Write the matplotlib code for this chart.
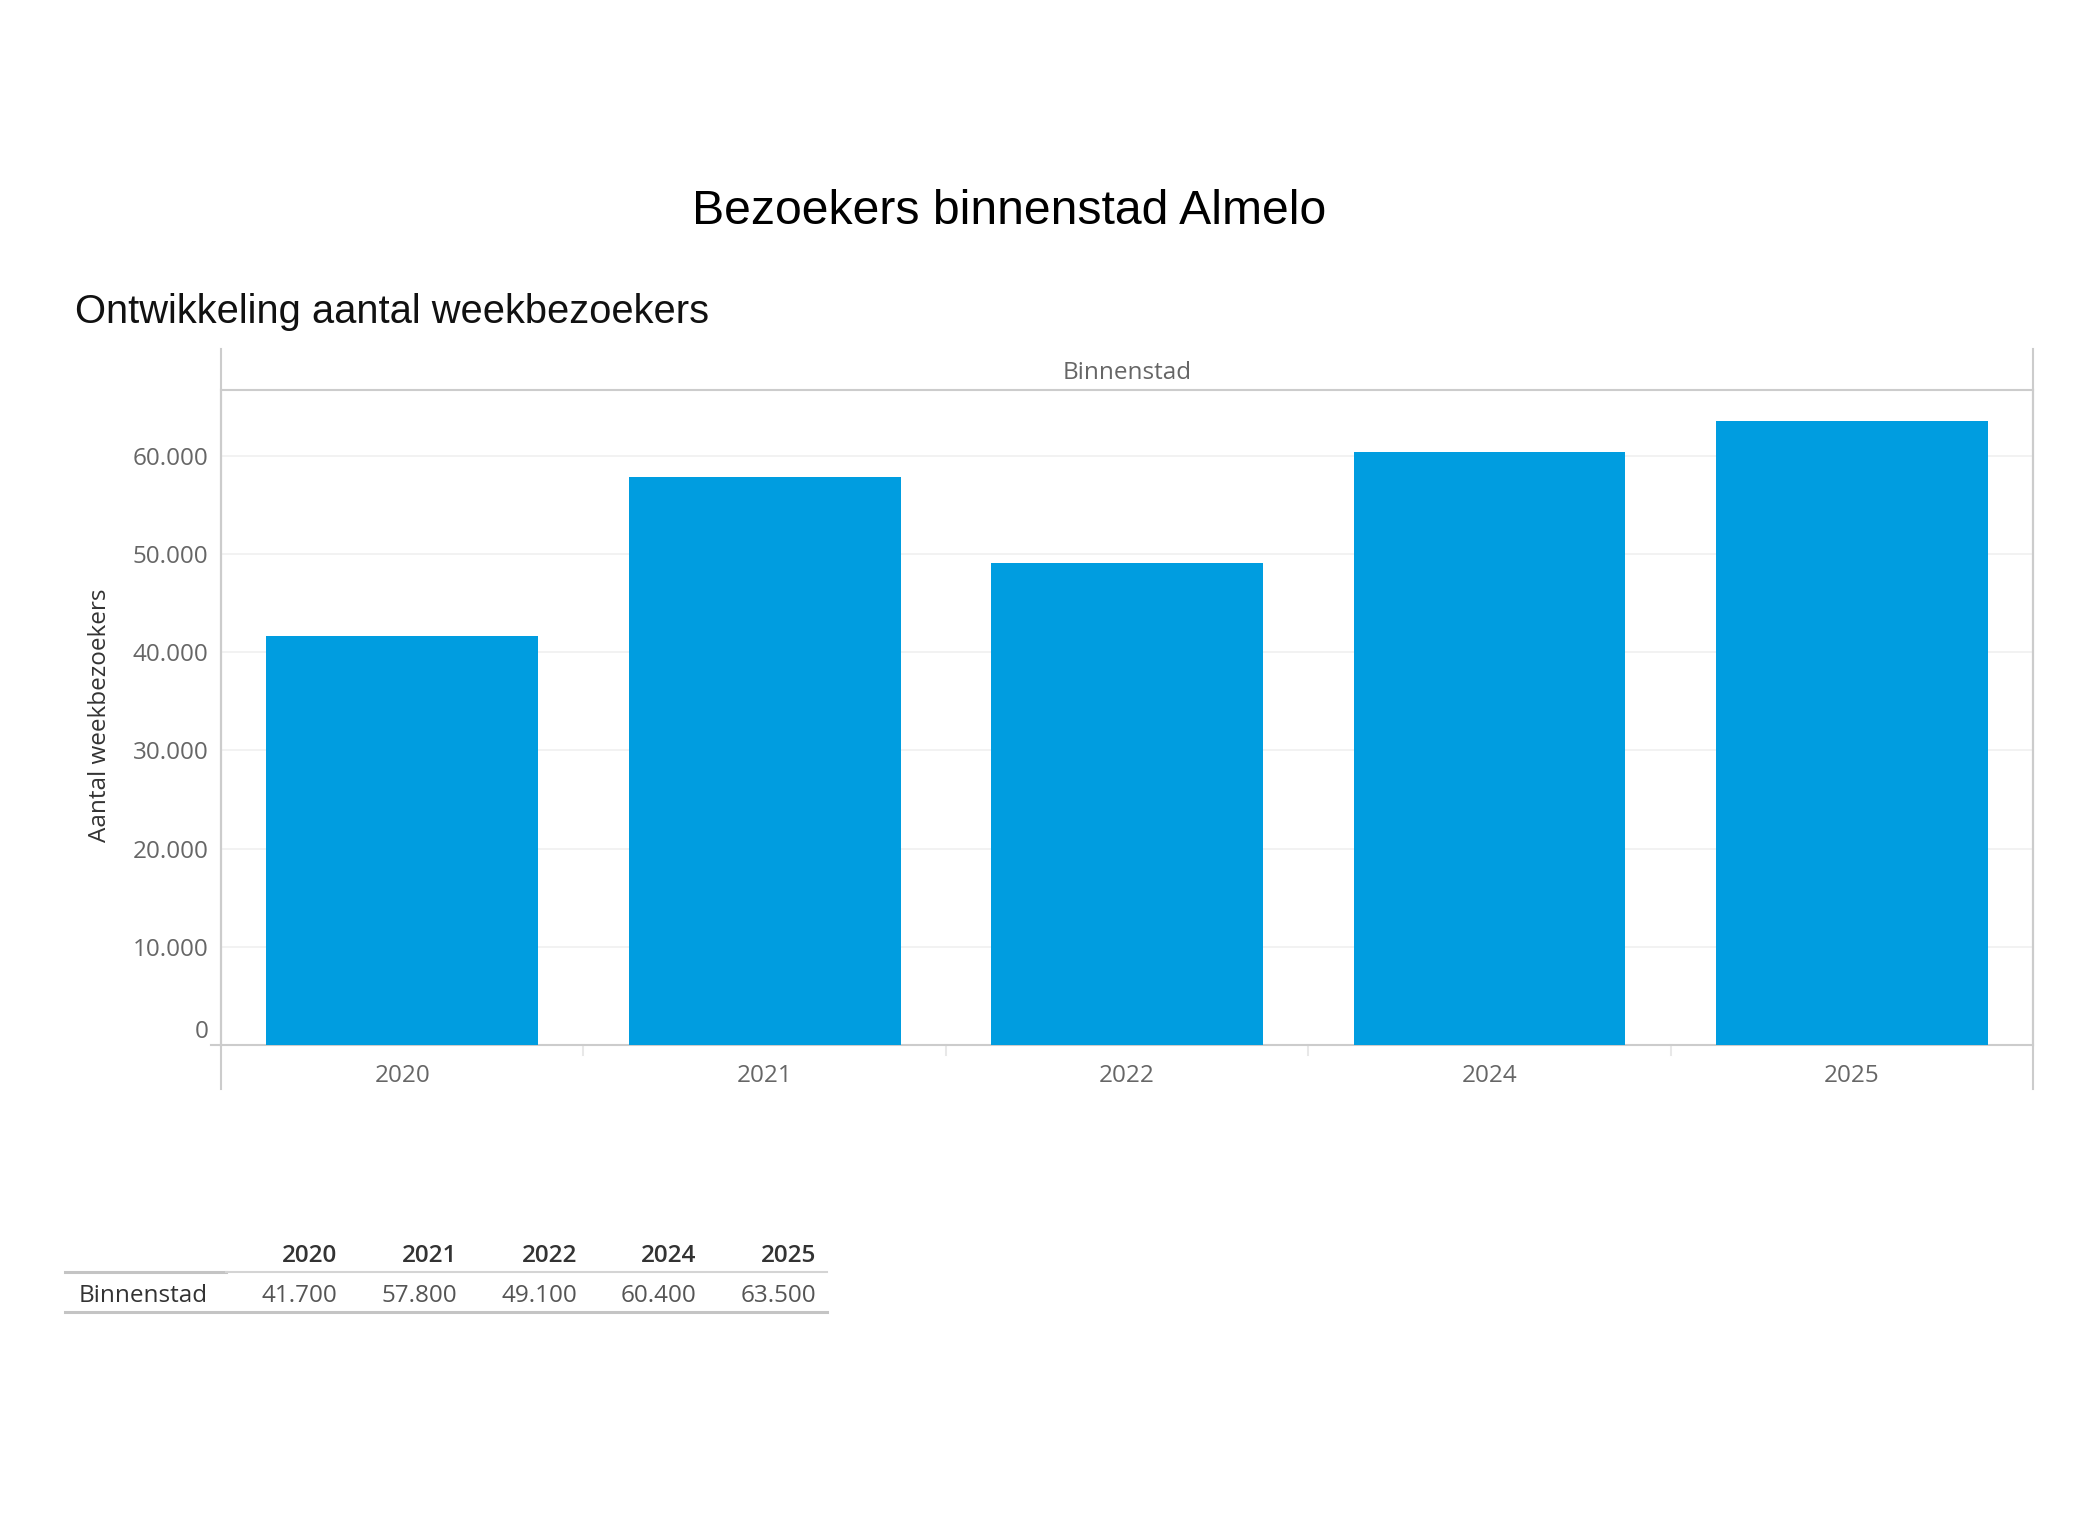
import matplotlib.pyplot as plt
from matplotlib.lines import Line2D
from matplotlib.transforms import ScaledTranslation

# Data
jaren = ['2020', '2021', '2022', '2024', '2025']
bezoekers = [41700, 57800, 49100, 60400, 63500]
y_ticks = [0, 10000, 20000, 30000, 40000, 50000, 60000]
rij_label = 'Binnenstad'

W, H = 2088, 1518
BLAUW = '#009de0'
LIJN = '#cccccc'
GRIJS = '#666666'
DONKER = '#333333'
FONT = 'Open Sans'
FS = 17.5


def nl(v):
    return f"{v:,.0f}".replace(',', '.')


def fx(px):
    return px / W


def fy(py):
    return 1 - py / H


fig = plt.figure(figsize=(W / 100, H / 100), dpi=100)

# Titels
fig.text(fx(1009), fy(212), 'Bezoekers binnenstad Almelo', ha='center', va='center',
         fontsize=34.7, family='Liberation Sans', color='black')
fig.text(fx(75), fy(312), 'Ontwikkeling aantal weekbezoekers', ha='left', va='center',
         fontsize=28.7, family='Liberation Sans', color='#111111')

# Grafiek
left, right, top, base = 221, 2033, 390, 1045
ax = fig.add_axes([fx(left), fy(base), fx(right - left), (base - top) / H])
x = range(len(jaren))
ax.bar(x, bezoekers, width=0.75, color=BLAUW, zorder=3)
ax.set_xlim(-0.5, len(jaren) - 0.5)
ax.set_ylim(0, 66700)

ax.set_yticks(y_ticks)
ax.set_yticklabels([nl(v) for v in y_ticks])
ax.set_xticks(list(x))
ax.set_xticklabels(jaren)
ax.tick_params(axis='both', length=0, labelsize=FS, labelcolor=GRIJS)
ax.tick_params(axis='y', pad=9)
ax.tick_params(axis='x', pad=14)
for lab in ax.get_xticklabels() + ax.get_yticklabels():
    lab.set_family(FONT)
# label "0" iets omhoog, zoals in Tableau
nul = ax.get_yticklabels()[0]
nul.set_transform(nul.get_transform() + ScaledTranslation(0, 0.16, fig.dpi_scale_trans))

ax.grid(axis='y', color='#f0f0f0', linewidth=1.2, zorder=0)
ax.set_axisbelow(True)
for s in ['left', 'right', 'top', 'bottom']:
    ax.spines[s].set_color(LIJN)
    ax.spines[s].set_linewidth(1.5)

# verlengde randlijnen (koptekst boven, ruimte onder)
y_top = (base - 349) / (base - top)
y_bot = -(1089 - base) / (base - top)
for xa in (0, 1):
    ax.add_line(Line2D([xa, xa], [y_bot, y_top], transform=ax.transAxes,
                       color=LIJN, linewidth=1.5, clip_on=False))
ax.add_line(Line2D([-10 / (right - left), 0], [0, 0], transform=ax.transAxes,
                   color=LIJN, linewidth=1.5, clip_on=False))
# scheidingsstreepjes tussen categorieën
for i in range(1, len(jaren)):
    ax.add_line(Line2D([i - 0.5, i - 0.5], [0, -0.015], transform=ax.get_xaxis_transform(),
                       color='#e8e8e8', linewidth=1.5, clip_on=False))

ax.text(0.5, (base - 373) / (base - top), rij_label, transform=ax.transAxes,
        ha='center', va='center', fontsize=FS, family=FONT, color=GRIJS)

fig.text(fx(100), fy(715), 'Aantal weekbezoekers', rotation=90, ha='center', va='center',
         fontsize=FS, family=FONT, color=DONKER)

# Tabel
kol_x = [337, 457, 577, 696, 816]
for xx, jaar, v in zip(kol_x, jaren, bezoekers):
    fig.text(fx(xx), fy(1256), jaar, ha='right', va='center', fontsize=FS,
             family=FONT, weight='semibold', color=DONKER)
    fig.text(fx(xx), fy(1296), nl(v), ha='right', va='center', fontsize=FS,
             family=FONT, color='#555555')
fig.text(fx(79), fy(1296), rij_label, ha='left', va='center', fontsize=FS,
         family=FONT, color=DONKER)

fig.add_artist(Line2D([fx(65), fx(226)], [fy(1272), fy(1272)], color='#c4c4c4', linewidth=2.2))
fig.add_artist(Line2D([fx(226), fx(827)], [fy(1272), fy(1272)], color='#d4d4d4', linewidth=1.5))
fig.add_artist(Line2D([fx(65), fx(827)], [fy(1312), fy(1312)], color='#c4c4c4', linewidth=2.2))

fig.savefig('out.png', dpi=100)
